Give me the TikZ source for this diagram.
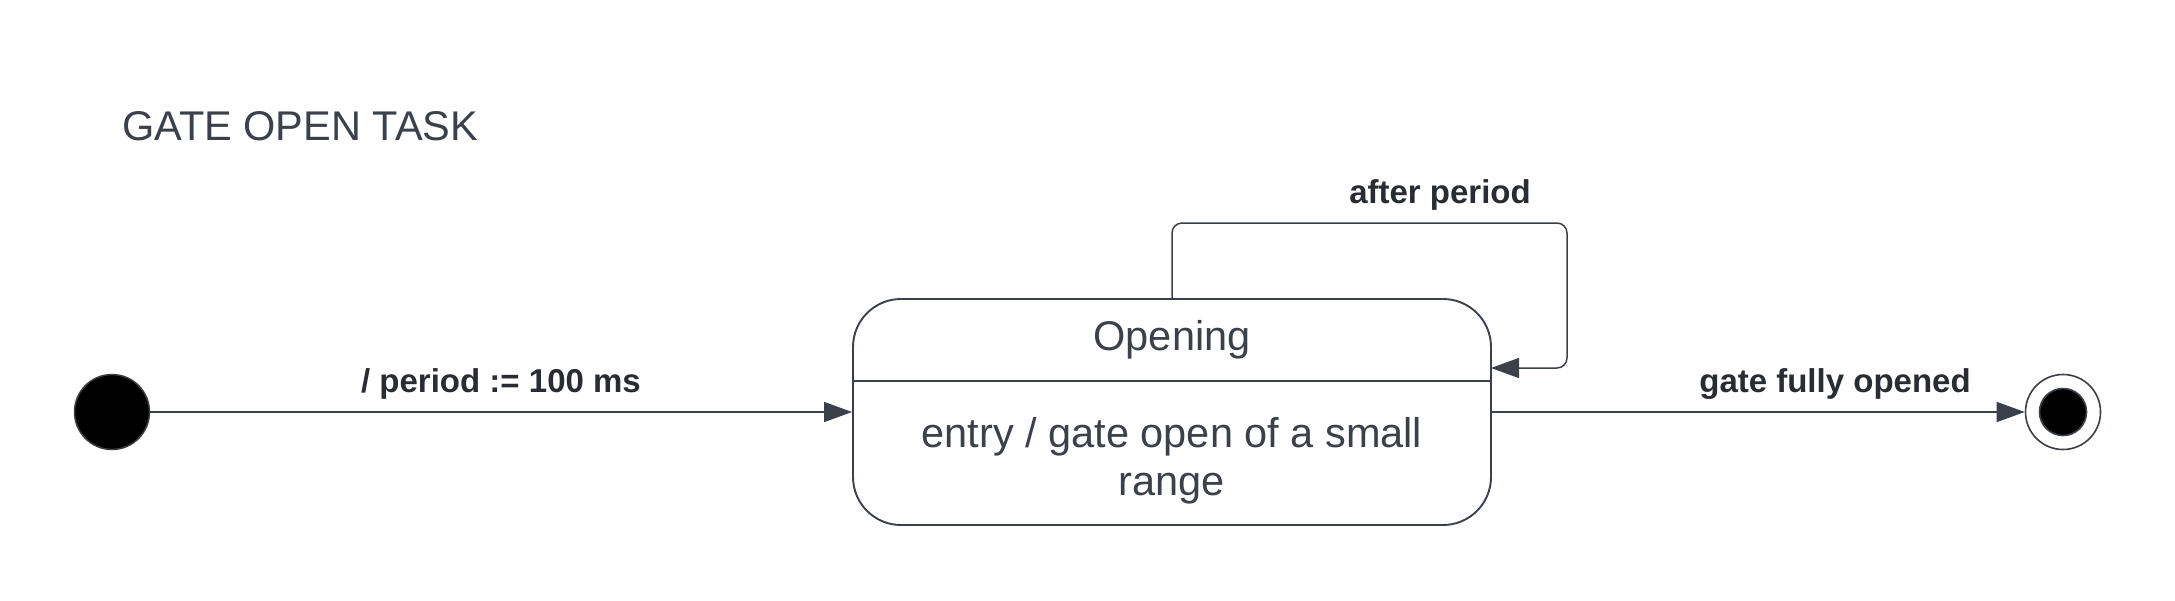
\documentclass[tikz,border=0pt]{standalone}
\usepackage{fontspec}
\setmainfont{Liberation Sans}
\usetikzlibrary{arrows.meta}
\definecolor{ink}{HTML}{3A414A}
\definecolor{lab}{HTML}{282C33}
\begin{document}
\begin{tikzpicture}[x=1pt,y=-1pt, line join=round,
  conn/.style={draw=ink, line width=1.5pt, -{Triangle[length=28pt,width=20pt]}},
  lbl/.style={font=\fontsize{33}{38}\selectfont\bfseries, text=lab, inner sep=0},
  big/.style={font=\fontsize{41.5}{48}\selectfont, text=ink, inner sep=0}]
\useasboundingbox[fill=white] (0,0) rectangle (2175,600);
\node[big, anchor=west] (title) at (122,126) {GATE OPEN TASK};
\node[circle, fill=black, draw=ink, line width=1.5pt, minimum size=75pt, inner sep=0] (init) at (112,412) {};
\node[draw=ink, line width=1.9pt, rounded corners=48pt, minimum width=638pt, minimum height=226pt, inner sep=0] (box) at (1172,412) {};
\coordinate (dl) at (853,381);
\coordinate (dr) at (1491,381);
\draw[ink, line width=1.3pt] (dl) -- (dr);
\node[big] (head) at (1172,340) {Opening};
\node[big, align=center] (body) at (1172,461) {entry / gate open of a small\\range};
\node[circle, draw=ink, line width=1.6pt, minimum size=75pt, inner sep=0, fill=white] (fin) at (2063,412) {};
\node[circle, fill=black, draw=ink, line width=1.6pt, minimum size=47pt, inner sep=0] (finin) at (fin) {};
\draw[conn] (init) -- (box.west);
\node[lbl] (l1) at (501,384) {/ period := 100 ms};
\draw[conn] (box.east) -- (fin.west);
\node[lbl] (l2) at (1835,384) {gate fully opened};
\coordinate (c1) at (1172,223);
\coordinate (c2) at (1567,223);
\coordinate (c3) at (1567,368);
\coordinate (c4) at (1491,368);
\draw[conn, rounded corners=10pt] (box.north) -- (c1) -- (c2) -- (c3) -- (c4);
\node[lbl] (l3) at (1440,195) {after period};
\end{tikzpicture}
\end{document}
